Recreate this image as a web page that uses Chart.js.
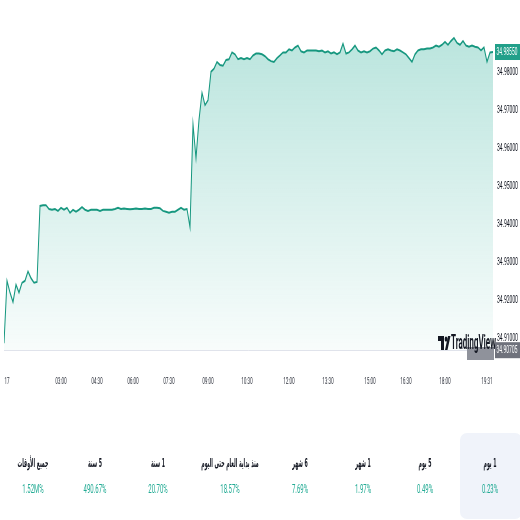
<!DOCTYPE html>
<html><head><meta charset="utf-8">
<script src="https://cdn.jsdelivr.net/npm/chart.js@4.4.1/dist/chart.umd.min.js"></script>
<style>
html,body{margin:0;padding:0;background:#fff;overflow:hidden;width:520px;height:520px}
#wrap{position:absolute;left:0;top:0;width:1040px;height:520px;transform:scaleX(0.5);transform-origin:0 0}
#c{position:absolute;left:0;top:0;width:1040px;height:400px}
.card{position:absolute;left:920px;top:433px;width:124px;height:86px;background:#f0f3fa;border-radius:14px/7px}
.col{position:absolute;top:452px;width:180px;margin-left:-90px;text-align:center}
.lab{font:bold 12px "DejaVu Sans",sans-serif;color:#131722;height:22px;line-height:22px;direction:rtl;transform:scaleX(0.78)}
.val{font:12px Roboto,sans-serif;color:#22ab94;margin-top:8px;direction:ltr}
</style></head>
<body>
<div id="wrap">
<canvas id="c" width="1040" height="400"></canvas>
<div class="card"></div>
<div id="stats"></div>
</div>
<script>
// ---- data ----
const prices = [
34.9089,34.9253,34.9222,34.9197,34.9243,34.9222,34.9248,34.9253,34.9278,34.9260,
34.9248,34.9250,34.9450,34.9452,34.9452,34.9442,34.9440,34.9442,34.9437,34.9445,
34.9440,34.9445,34.9432,34.9440,34.9435,34.9440,34.9447,34.9440,34.9437,34.9440,
34.9440,34.9440,34.9437,34.9440,34.9440,34.9440,34.9440,34.9442,34.9445,34.9442,
34.9443,34.9442,34.9441,34.9442,34.9443,34.9442,34.9442,34.9443,34.9442,34.9442,
34.9445,34.9445,34.9444,34.9437,34.9435,34.9432,34.9435,34.9435,34.9440,34.9445,
34.9440,34.9442,34.9394,34.9665,34.9576,34.9677,34.9748,34.9715,34.9728,34.9803,
34.9811,34.9829,34.9821,34.9819,34.9834,34.9836,34.9854,34.9849,34.9836,34.9839,
34.9836,34.9839,34.9836,34.9846,34.9851,34.9851,34.9849,34.9844,34.9836,34.9831,
34.9829,34.9839,34.9846,34.9854,34.9854,34.9862,34.9859,34.9867,34.9872,34.9857,
34.9854,34.9859,34.9859,34.9859,34.9859,34.9857,34.9859,34.9854,34.9857,34.9851,
34.9854,34.9849,34.9854,34.9877,34.9851,34.9854,34.9862,34.9872,34.9859,34.9854,
34.9857,34.9854,34.9857,34.9864,34.9867,34.9859,34.9849,34.9859,34.9862,34.9859,
34.9857,34.9862,34.9859,34.9854,34.9849,34.9839,34.9829,34.9849,34.9859,34.9862,
34.9862,34.9864,34.9864,34.9867,34.9872,34.9869,34.9874,34.9882,34.9874,34.9884,
34.9892,34.9879,34.9874,34.9884,34.9872,34.9869,34.9872,34.9869,34.9867,34.9859,
34.9867,34.9829,34.9854,34.9855
];
const xTickBars = [1,19,31,43,55,68,81,95,108,122,134,147,161];
const xTickLabels = ['17','03:00','04:30','06:00','07:30','09:00','10:30','12:00','13:30','15:00','16:30','18:00','19:31'];
const yTicks = [34.91,34.92,34.93,34.94,34.95,34.96,34.97,34.98];
const lastPrice = 34.98550;
const lowPrice = 34.90705;
const periodLabels = ['1 يوم','5 يوم','1 شهر','6 شهر','منذ بداية العام حتى اليوم','1 سنة','5 سنة','جميع الأوقات'];
const periodValues = ['0.23%','0.49%','1.97%','7.69%','18.57%','20.70%','490.67%','1.52M%'];

// ---- stats panel ----
const centers = [980,850,726,600,460,316,190,66];
const stats = document.getElementById('stats');
periodLabels.forEach((l,i)=>{
  const d=document.createElement('div');
  d.className='col'; d.style.left=centers[i]+'px';
  d.innerHTML='<div class="lab"></div><div class="val"></div>';
  d.querySelector('.lab').textContent=l;
  d.querySelector('.val').textContent=periodValues[i];
  stats.appendChild(d);
});

// ---- overlay (price labels, logo) ----
const overlay = {
  id:'overlay',
  afterDraw(ch){
    const c=ch.ctx, y=ch.scales.y, a=ch.chartArea;
    c.save();
    c.fillStyle='#8f929b';
    c.fillRect(934,347,54,13);
    c.fillStyle='#131722';
    c.fillRect(876,336,12,5);
    c.fillRect(882,336,6,14);
    c.beginPath(); c.arc(892,339,2.6,0,Math.PI*2); c.fill();
    c.beginPath(); c.moveTo(890,350); c.lineTo(896,336); c.lineTo(901,336); c.lineTo(895,350); c.closePath(); c.fill();
    c.save();
    c.translate(902,349); c.scale(0.8,1);
    c.font='bold 20px Roboto'; c.textBaseline='alphabetic'; c.textAlign='left';
    c.fillText('TradingView',0,0);
    c.restore();
    c.font='10px Roboto'; c.textBaseline='middle'; c.textAlign='left';
    const py=y.getPixelForValue(lastPrice);
    c.fillStyle='#22a08a'; c.fillRect(a.right+4,py-8,50,16);
    c.fillStyle='#fff'; c.fillText(lastPrice.toFixed(5),a.right+7,py);
    const ly=y.getPixelForValue(lowPrice);
    c.fillStyle='#6f727c'; c.fillRect(a.right+4,ly-8,50,16);
    c.fillStyle='#fff'; c.fillText(lowPrice.toFixed(5),a.right+7,ly);
    c.restore();
  }
};

new Chart(document.getElementById('c').getContext('2d'), {
  type:'line',
  data:{datasets:[{
    data:prices.map((v,i)=>({x:i,y:v})),
    borderColor:'#16977f', borderWidth:2, pointRadius:0, tension:0,
    fill:'start',
    backgroundColor:(ctx)=>{
      const ca=ctx.chart.chartArea;
      if(!ca) return 'rgba(34,171,148,0.2)';
      const g=ctx.chart.ctx.createLinearGradient(0,ca.top,0,ca.bottom);
      g.addColorStop(0,'rgba(34,171,148,0.33)');
      g.addColorStop(1,'rgba(34,171,148,0.03)');
      return g;
    }
  }]},
  options:{
    responsive:false, animation:false,
    layout:{padding:{left:8,right:0,top:0,bottom:0}},
    plugins:{legend:{display:false},tooltip:{enabled:false}},
    scales:{
      x:{type:'linear',min:0,max:prices.length-1,
        grid:{display:true,drawOnChartArea:false,drawTicks:true,tickLength:26,color:'rgba(0,0,0,0)'},
        border:{display:true,color:'#e0e3eb',width:1},
        afterBuildTicks:s=>{s.ticks=xTickBars.map(v=>({value:v}));},
        afterFit:s=>{s.height=50;},
        ticks:{autoSkip:false,maxRotation:0,padding:0,font:{family:'Roboto',size:9},color:'#2a2e39',
          callback:(v)=>{const k=xTickBars.indexOf(v);return k>=0?xTickLabels[k]:'';}}
      },
      y:{position:'right',min:34.9071,max:34.9955,
        grid:{display:false,drawTicks:false}, border:{display:false},
        afterBuildTicks:s=>{s.ticks=yTicks.map(v=>({value:v}));},
        afterFit:s=>{s.width=54;},
        ticks:{padding:8,font:{family:'Roboto',size:10},color:'#131722',callback:v=>Number(v).toFixed(5)}
      }
    }
  },
  plugins:[overlay]
});
</script>
</body></html>
